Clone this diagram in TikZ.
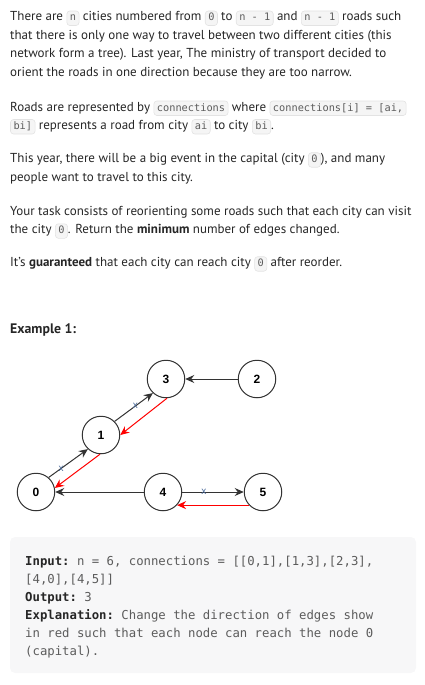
\documentclass[tikz,border=0pt]{standalone}
\usepackage{fontspec}
\setmainfont{PT Sans}
\setmonofont{DejaVu Sans Mono}
\newfontfamily\labelfont{Liberation Sans}
\usetikzlibrary{arrows.meta}

\definecolor{bodytext}{HTML}{262626}
\definecolor{codetext}{HTML}{5C5C5C}
\definecolor{codefill}{HTML}{F5F5F5}
\definecolor{codeedge}{HTML}{E3E3E3}
\definecolor{blockfill}{HTML}{F7F7F8}
\definecolor{markblue}{HTML}{4A6A9A}

\newcommand\bodyfont{\fontsize{13}{16}\selectfont}
\newcommand\code[1]{\tikz[baseline=(c.base)]\node[inner xsep=3pt, inner ysep=2pt, text height=8pt, text depth=2.5pt, fill=codefill, draw=codeedge, line width=0.6pt, rounded corners=3pt, text=codetext, font=\ttfamily\fontsize{10.3}{12}\selectfont] (c) {#1};}

\tikzset{
  textline/.style={anchor=base west, inner sep=0pt, text=bodytext, font=\bodyfont},
  monoline/.style={anchor=base west, inner sep=0pt, text=codetext, font=\ttfamily\fontsize{12.3}{15}\selectfont},
  city/.style={circle, draw=black!80, line width=1pt, minimum size=37.5pt, inner sep=0pt, fill=white, font=\labelfont\bfseries\fontsize{12}{12}\selectfont},
  road/.style={draw=black!80, line width=1pt, -{Stealth[length=9pt,width=8pt,inset=3pt]}},
  flip/.style={draw=red, line width=1pt, -{Stealth[length=9pt,width=8pt,inset=3pt]}},
  cut/.style={inner sep=0pt, text=markblue, font=\labelfont\fontsize{10}{10}\selectfont}
}

\begin{document}
\begin{tikzpicture}[x=1pt,y=-1pt]
		%%%%% START %%%%%
		\useasboundingbox (0,0) rectangle (425,685);
		
		\node[textline] (t1) at (10,21) {There are \code{n} cities numbered from \code{0} to \code{n - 1} and \code{n - 1} roads such};
		\node[textline] (t2) at (10,39.4) {that there is only one way to travel between two different cities (this};
		\node[textline] (t3) at (10,57.8) {network form a tree). Last year, The ministry of transport decided to};
		\node[textline] (t4) at (10,76.2) {orient the roads in one direction because they are too narrow.};
		
		\node[textline] (t5) at (10,111) {Roads are represented by \code{connections} where \code{connections[i] = [ai,}};
		\node[textline] (t6) at (10,129.5) {\code{bi]} represents a road from city \code{ai} to city \code{bi}.};
		
		\node[textline] (t7) at (10,162.7) {This year, there will be a big event in the capital (city \code{0}), and many};
		\node[textline] (t8) at (10,181.5) {people want to travel to this city.};
		
		\node[textline] (t9) at (10,215) {Your task consists of reorienting some roads such that each city can visit};
		\node[textline] (t10) at (10,233.8) {the city \code{0}. Return the \textbf{minimum} number of edges changed.};
		
		\node[textline] (t11) at (10,266.7) {It's \textbf{guaranteed} that each city can reach city \code{0} after reorder.};
		
		\node[textline, font=\fontsize{13.8}{16}\selectfont\bfseries] (ex) at (10,333) {Example 1:};
		
		% cities
		\node[city] (n0) at (36,492) {0};
		\node[city] (n1) at (101,435) {1};
		\node[city] (n3) at (166,379) {3};
		\node[city] (n2) at (257,379) {2};
		\node[city] (n4) at (163,492) {4};
		\node[city] (n5) at (263,492) {5};
		
		% roads as given
		\draw[road] (n0.49) -- node[cut, pos=0.32] (x01) {x} (n1.227);
		\draw[road] (n1.45) -- node[cut, pos=0.54] (x13) {x} (n3.227);
		\draw[road] (n2) -- (n3);
		\draw[road] (n4) -- (n0);
		\draw[road] (n4.east) -- node[cut, pos=0.35] (x45) {x} (n5.west);
		
		% reoriented roads
		\draw[flip] (n1.267) -- (n0.12);
		\draw[flip] (n3.273) -- (n1.0);
		\draw[flip] (n5.223) -- (n4.317);
		
		% example block
		\fill[blockfill, rounded corners=5pt] (10,537) rectangle (416,673);
		\node[monoline] (i1) at (25,565) {\textcolor{bodytext}{\bfseries Input:} n = 6, connections = [[0,1],[1,3],[2,3],};
		\node[monoline] (i2) at (25,583) {[4,0],[4,5]]};
		\node[monoline] (o1) at (25,601) {\textcolor{bodytext}{\bfseries Output:} 3};
		\node[monoline] (e1) at (25,619) {\textcolor{bodytext}{\bfseries Explanation:} Change the direction of edges show};
		\node[monoline] (e2) at (25,637) {in red such that each node can reach the node 0};
		\node[monoline] (e3) at (25,655) {(capital).};
		
		%%%%% END %%%%%
\end{tikzpicture}
\end{document}
